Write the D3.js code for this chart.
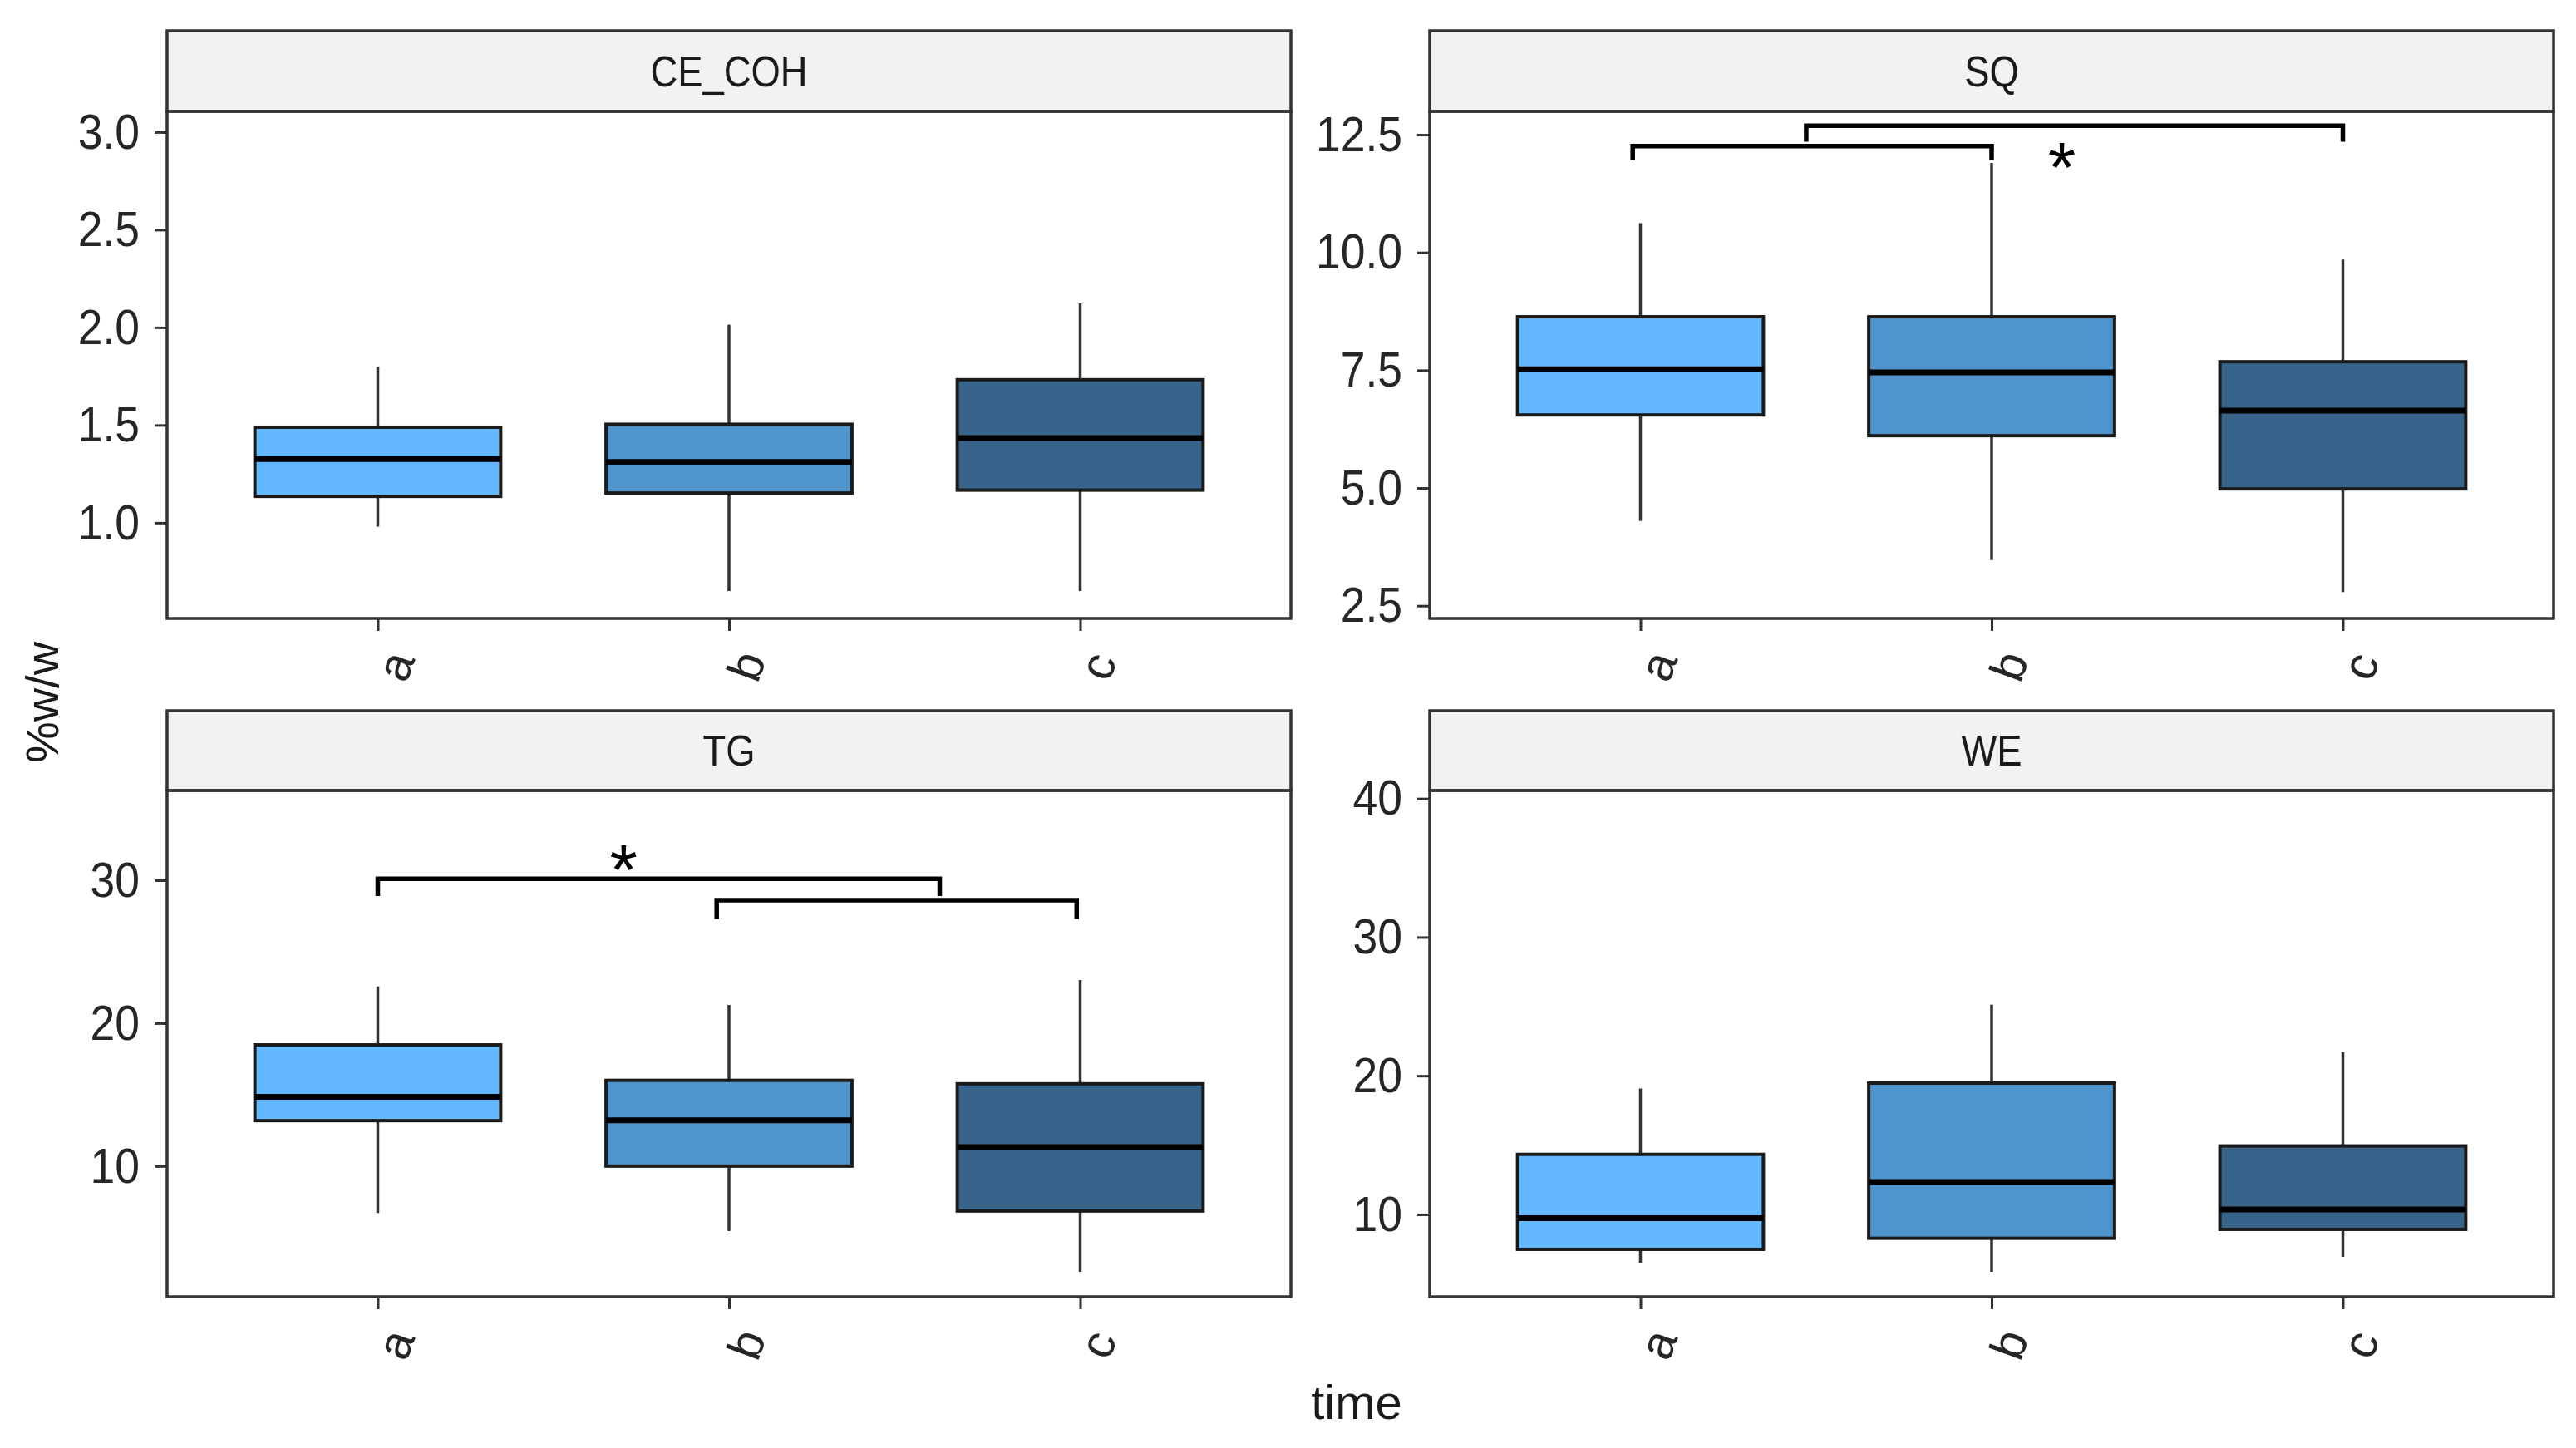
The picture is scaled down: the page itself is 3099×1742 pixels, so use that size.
<!DOCTYPE html>
<html>
<head>
<meta charset="utf-8">
<script src="https://cdn.jsdelivr.net/npm/d3@7"></script>
<style>
  body { margin: 0; background: #fff; }
  svg { display: block; font-family: "Liberation Sans", Arial, sans-serif; }
</style>
</head>
<body>
<svg id="chart" width="3099" height="1742"></svg>
<script>
// facet names, groups and box stats (one row per facet, one value per time)
var panels = ['CE_COH', 'SQ', 'TG', 'WE']
var times = ['a', 'b', 'c']
var fills = ['#63B8FF', '#4F94CD', '#36648B']

var whiskerLow  = [[0.98, 0.65, 0.65], [4.30, 3.47, 2.79], [6.72, 5.46, 2.60], [6.51, 5.86, 6.94]]
var q1          = [[1.135, 1.152, 1.167], [6.55, 6.11, 4.98], [13.18, 10.0, 6.86], [7.48, 8.28, 8.92]]
var medians     = [[1.326, 1.311, 1.434], [7.52, 7.455, 6.64], [14.85, 13.21, 11.33], [9.72, 12.34, 10.36]]
var q3          = [[1.489, 1.504, 1.732], [8.635, 8.635, 7.68], [18.48, 16.0, 15.76], [14.33, 19.47, 14.94]]
var whiskerHigh = [[1.80, 2.014, 2.123], [10.62, 11.90, 9.85], [22.57, 21.27, 23.02], [19.08, 25.13, 21.71]]

var yDomains = [[0.51, 3.106], [2.23, 12.995], [0.86, 36.28], [4.06, 40.58]]
var yTicks = [[1.0, 1.5, 2.0, 2.5, 3.0], [2.5, 5.0, 7.5, 10.0, 12.5], [10, 20, 30], [10, 20, 30, 40]]
var yFormats = ['.1f', '.1f', 'd', 'd']

// significance brackets: [x1, x2, y, tip1, tip2] in data units, plus star spots
var brackets = [[], [[0.978, 2.0, 12.26, 11.96, 11.96], [1.472, 3.0, 12.69, 12.35, 12.35]],
  [[1.0, 2.60, 30.1, 28.9, 28.9], [1.965, 2.99, 28.6, 27.3, 27.3]], []]
var stars = [null, [2.2, 12.08], [1.70, 31.6], null]

var cols = [[201, 1553], [1720, 3072]]
var rows = [{strip: 37, top: 134, bottom: 744}, {strip: 855, top: 951, bottom: 1560}]

var svg = d3.select('#chart')
svg.append('rect').attr('width', 3099).attr('height', 1742).attr('fill', '#fff')

panels.forEach(function(name, i){
  var col = cols[i % 2], row = rows[Math.floor(i / 2)]
  var x = d3.scaleLinear().domain([0.4, 3.6]).range(col)
  var y = d3.scaleLinear().domain(yDomains[i]).range([row.bottom, row.top])
  var g = svg.append('g')

  // strip
  g.append('rect')
    .attr('x', col[0]).attr('y', row.strip)
    .attr('width', col[1] - col[0]).attr('height', row.top - row.strip)
    .attr('fill', '#f2f2f2').attr('stroke', '#333').attr('stroke-width', 3.5)
  g.append('text').text(name)
    .attr('transform', 'translate(' + (col[0] + col[1]) / 2 + ',' + (row.strip + row.top) / 2 + ') scale(0.89,1)')
    .attr('text-anchor', 'middle').attr('dy', '0.36em')
    .attr('font-size', 51).attr('fill', '#1a1a1a')

  // y axis
  var yAxis = g.append('g').attr('transform', 'translate(' + col[0] + ',0)')
    .call(d3.axisLeft(y).tickValues(yTicks[i]).tickFormat(d3.format(yFormats[i])).tickSize(15).tickPadding(18))
  yAxis.select('.domain').remove()
  yAxis.selectAll('line').attr('stroke', '#333').attr('stroke-width', 3)
  yAxis.selectAll('text')
    .attr('x', 0)
    .attr('transform', 'translate(-33,0) scale(0.89,1)')
    .attr('font-size', 60).attr('fill', '#262626')
    .attr('font-family', '"Liberation Sans", Arial, sans-serif')

  // x axis
  var xAxis = g.append('g').attr('transform', 'translate(0,' + row.bottom + ')')
    .call(d3.axisBottom(x).tickValues([1, 2, 3]).tickFormat(function(d){ return times[d - 1] }).tickSize(15))
  xAxis.select('.domain').remove()
  xAxis.selectAll('line').attr('stroke', '#333').attr('stroke-width', 3)
  xAxis.selectAll('text')
    .attr('y', 0).attr('dy', 0)
    .attr('transform', 'translate(20,57) rotate(-70)')
    .attr('text-anchor', 'middle').attr('dominant-baseline', 'central')
    .attr('font-size', 58).attr('fill', '#262626')
    .attr('font-family', '"Liberation Sans", Arial, sans-serif')

  var idx = d3.range(times.length)
  var bw = x(0.7) - x(0)

  // whiskers
  g.selectAll('line.whisk-hi').data(idx).join('line')
    .attr('x1', d => x(d + 1)).attr('x2', d => x(d + 1))
    .attr('y1', d => y(q3[i][d])).attr('y2', d => y(whiskerHigh[i][d]))
    .attr('stroke', '#333').attr('stroke-width', 3.5)
  g.selectAll('line.whisk-lo').data(idx).join('line')
    .attr('x1', d => x(d + 1)).attr('x2', d => x(d + 1))
    .attr('y1', d => y(q1[i][d])).attr('y2', d => y(whiskerLow[i][d]))
    .attr('stroke', '#333').attr('stroke-width', 3.5)

  // boxes
  g.selectAll('rect.box').data(idx).join('rect')
    .attr('x', d => x(d + 1) - bw / 2).attr('width', bw)
    .attr('y', d => y(q3[i][d])).attr('height', d => y(q1[i][d]) - y(q3[i][d]))
    .attr('fill', d => fills[d]).attr('stroke', '#1a1a1a').attr('stroke-width', 4)
  g.selectAll('line.med').data(idx).join('line')
    .attr('x1', d => x(d + 1) - bw / 2).attr('x2', d => x(d + 1) + bw / 2)
    .attr('y1', d => y(medians[i][d])).attr('y2', d => y(medians[i][d]))
    .attr('stroke', '#000').attr('stroke-width', 7)

  // brackets
  g.selectAll('path.bracket').data(brackets[i]).join('path')
    .attr('d', b => 'M' + x(b[0]) + ',' + y(b[3]) + 'V' + y(b[2]) + 'H' + x(b[1]) + 'V' + y(b[4]))
    .attr('fill', 'none').attr('stroke', '#000').attr('stroke-width', 5.5)
  if (stars[i]) {
    g.append('text').text('*')
      .attr('x', x(stars[i][0])).attr('y', y(stars[i][1]))
      .attr('dy', '0.52em').attr('text-anchor', 'middle')
      .attr('font-size', 86).attr('fill', '#000')
  }

  // panel border
  g.append('rect')
    .attr('x', col[0]).attr('y', row.top)
    .attr('width', col[1] - col[0]).attr('height', row.bottom - row.top)
    .attr('fill', 'none').attr('stroke', '#333').attr('stroke-width', 3.5)
})

svg.append('text').text('%w/w')
  .attr('transform', 'translate(50,845) rotate(-90)')
  .attr('text-anchor', 'middle').attr('dy', '0.36em')
  .attr('font-size', 56).attr('fill', '#1a1a1a')

svg.append('text').text('time')
  .attr('x', 1632).attr('y', 1707)
  .attr('text-anchor', 'middle')
  .attr('font-size', 58).attr('fill', '#1a1a1a')
</script>
</body>
</html>
